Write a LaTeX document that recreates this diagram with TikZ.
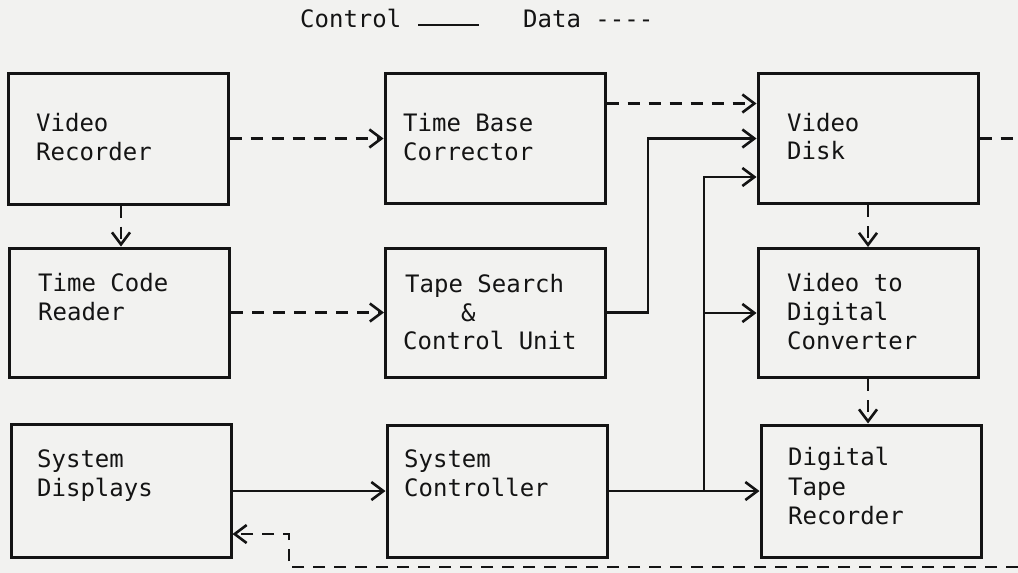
\documentclass[tikz,border=0pt]{standalone}
\usepackage{fontspec}
\setmonofont{DejaVu Sans Mono}
\usetikzlibrary{arrows.meta}
\definecolor{paper}{RGB}{242,242,240}
\definecolor{ink}{RGB}{20,20,20}
\begin{document}
\begin{tikzpicture}[x=1pt,y=-1pt,
  box/.style={draw=ink, line width=3pt, minimum width=220pt, minimum height=130pt, inner sep=0pt},
  lbl/.style={anchor=base west, inner sep=0pt, text=ink, font=\ttfamily\fontsize{24}{29}\selectfont},
  tip/.style={-{Straight Barb[length=12pt,width=18pt,line width=2.6pt]}},
  ctrl/.style={draw=ink, line width=2.6pt, tip},
  data/.style={draw=ink, line width=2.6pt, dash pattern=on 12pt off 9pt},
  dataar/.style={data, tip}
]
\fill[paper] (0,0) rectangle (1018,573);
\useasboundingbox (0,0) rectangle (1018,573);

% legend
\node[lbl] (lc) at (300,27) {Control};
\coordinate (l1) at (418,25);
\coordinate (l2) at (479,25);
\draw[ink, line width=1.8pt] (l1) -- (l2);
\node[lbl] (ld) at (523,27) {Data ----};

% boxes
\node[box, minimum height=131pt] (vr)  at (118,138.5) {};
\node[box] (tbc) at (495,138.5) {};
\node[box] (vd)  at (868,138.5) {};
\node[box, minimum height=129pt] (tcr) at (119.5,312.5) {};
\node[box, minimum height=129pt] (tsc) at (495.5,312.5) {};
\node[box, minimum height=129pt] (vdc) at (868,313) {};
\node[box, minimum height=133pt] (sd)  at (121,491) {};
\node[box, minimum height=132pt] (sc)  at (497,491) {};
\node[box, minimum height=132pt] (dtr) at (871,491) {};

% labels
\node[lbl] (t1) at (36,131) {Video};
\node[lbl] (t2) at (36,160) {Recorder};
\node[lbl] (t3) at (38,291) {Time Code};
\node[lbl] (t4) at (38,320) {Reader};
\node[lbl] (t5) at (37,467) {System};
\node[lbl] (t6) at (37,496) {Displays};
\node[lbl] (t7) at (403,131) {Time Base};
\node[lbl] (t8) at (403,160) {Corrector};
\node[lbl] (t9) at (405,292) {Tape Search};
\node[lbl] (t10) at (461,321) {\&};
\node[lbl] (t11) at (403,349) {Control Unit};
\node[lbl] (t12) at (404,467) {System};
\node[lbl] (t13) at (404,496) {Controller};
\node[lbl] (t14) at (787,131) {Video};
\node[lbl] (t15) at (787,159) {Disk};
\node[lbl] (t16) at (787,291) {Video to};
\node[lbl] (t17) at (787,320) {Digital};
\node[lbl] (t18) at (787,349) {Converter};
\node[lbl] (t19) at (788,465) {Digital};
\node[lbl] (t20) at (788,495) {Tape};
\node[lbl] (t21) at (788,524) {Recorder};

% junction coordinates
\coordinate (j1) at (648,0);
\coordinate (j2) at (704,0);
\coordinate (r1) at (1018,138.5);
\coordinate (b1) at (1018,567);
\coordinate (b2) at (289,567);

% data connectors
\draw[dataar] (vr.east) -- (tbc.west);
\draw[dataar] ([xshift=3pt]vr.south) -- ([xshift=3pt]vr.south |- tcr.north);
\draw[dataar] (tcr.east) -- (tsc.west);
\draw[dataar] ([yshift=35pt]tbc.east) -- ([yshift=35pt]tbc.east -| vd.west);
\draw[dataar] (vd.south) -- (vdc.north);
\draw[dataar] (vdc.south) -- (vdc.south |- dtr.north);
\draw[data] (vd.east) -- (r1);
\draw[dataar] (b1) -- (b2) |- ([yshift=-43pt]sd.east);

% control connectors
\draw[ctrl] (tsc.east) -- (tsc.east -| j1) |- (vd.west);
\draw[ctrl] (sd.east) -- (sc.west);
\draw[ctrl] (sc.east) -- (dtr.west);
\draw[ctrl] (sc.east -| j2) |- ([yshift=-38.5pt]vd.west);
\draw[ctrl] (vdc.west -| j2) -- (vdc.west);
\end{tikzpicture}
\end{document}
